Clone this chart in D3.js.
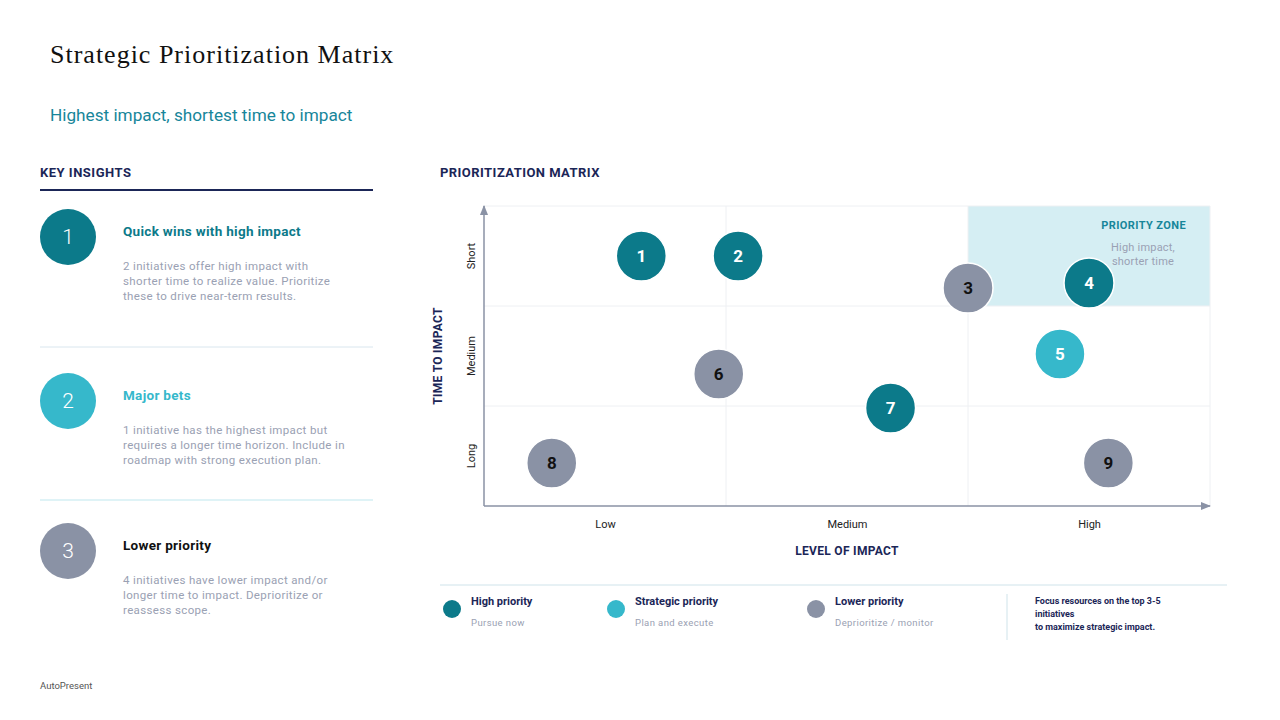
<!DOCTYPE html>
<html>
<head>
<meta charset="utf-8">
<script src="https://cdn.jsdelivr.net/npm/d3@7"></script>
<style>
  body { margin: 0; background: #fff; }
  svg { display: block; font-family: Roboto, "Noto Sans", sans-serif; }
</style>
</head>
<body>
<svg width="1280" height="720"></svg>
<script>
// initiatives on the matrix
const ids = ["1", "2", "3", "4", "5", "6", "7", "8", "9"];
const impact = [0.65, 1.05, 2.0, 2.5, 2.38, 0.97, 1.68, 0.28, 2.58];   // 0..3, Low -> High
const timeToImpact = [0.5, 0.5, 0.82, 0.77, 1.48, 1.68, 2.02, 2.57, 2.57]; // 0..3, Short -> Long
const priority = ["high", "high", "low", "high", "strategic", "low", "high", "low", "low"];

const xTicks = ["Low", "Medium", "High"];
const yTicks = ["Short", "Medium", "Long"];

const legendKeys = ["high", "strategic", "low"];
const legendNames = ["High priority", "Strategic priority", "Lower priority"];
const legendNotes = ["Pursue now", "Plan and execute", "Deprioritize / monitor"];

const insightTitles = ["Quick wins with high impact", "Major bets", "Lower priority"];
const insightBody = [
  ["2 initiatives offer high impact with", "shorter time to realize value. Prioritize", "these to drive near-term results."],
  ["1 initiative has the highest impact but", "requires a longer time horizon. Include in", "roadmap with strong execution plan."],
  ["4 initiatives have lower impact and/or", "longer time to impact. Deprioritize or", "reassess scope."]
];

const colors = { high: "#0c7a8a", strategic: "#36b8cb", low: "#8a92a5" };
const navy = "#1b2657";
const grayText = "#9aa1b3";

const svg = d3.select("svg");

// header
svg.append("text").attr("x", 50).attr("y", 63).text("Strategic Prioritization Matrix")
  .style("font-family", "'Liberation Serif', 'DejaVu Serif', serif").style("font-size", "26px")
  .style("letter-spacing", "1px").style("fill", "#111");
svg.append("text").attr("x", 50).attr("y", 121).text("Highest impact, shortest time to impact")
  .style("font-size", "17.2px").style("fill", "#17869a");

// left panel
svg.append("text").attr("x", 40).attr("y", 177).text("KEY INSIGHTS")
  .style("font-size", "13px").style("font-weight", "bold").style("letter-spacing", "0.5px").style("fill", navy);
svg.append("line").attr("x1", 40).attr("x2", 373).attr("y1", 190).attr("y2", 190)
  .style("stroke", navy).style("stroke-width", 2);

const itemY = [237, 401, 551];
const itemColor = [colors.high, colors.strategic, colors.low];
const titleColor = [colors.high, colors.strategic, "#111"];
const sepY = [347, 500];
const sepColor = ["#d9e6ee", "#bfe7ee"];

itemY.forEach(function (cy, i) {
  svg.append("circle").attr("cx", 68).attr("cy", cy).attr("r", 28).style("fill", itemColor[i]);
  svg.append("text").attr("x", 68).attr("y", cy).text(i + 1)
    .attr("text-anchor", "middle").attr("dominant-baseline", "central")
    .style("font-size", "21px").style("font-weight", 300).style("fill", "#fff");
  svg.append("text").attr("x", 123).attr("y", cy - 1).text(insightTitles[i])
    .style("font-size", "13.5px").style("font-weight", "bold").style("letter-spacing", "0.3px")
    .style("fill", titleColor[i]);
  insightBody[i].forEach(function (line, j) {
    svg.append("text").attr("x", 123).attr("y", cy + 33 + j * 15).text(line)
      .style("font-size", "11.5px").style("letter-spacing", "0.35px").style("fill", grayText);
  });
});
sepY.forEach(function (y, i) {
  svg.append("line").attr("x1", 40).attr("x2", 373).attr("y1", y).attr("y2", y)
    .style("stroke", sepColor[i]).style("stroke-width", 1);
});

// matrix
svg.append("text").attr("x", 440).attr("y", 177).text("PRIORITIZATION MATRIX")
  .style("font-size", "13px").style("font-weight", "bold").style("letter-spacing", "0.45px").style("fill", navy);

const x = d3.scaleLinear().domain([0, 3]).range([484, 1210]);
const y = d3.scaleLinear().domain([0, 3]).range([206, 506]);

// priority zone
svg.append("rect").attr("x", x(2)).attr("y", y(0)).attr("width", x(3) - x(2)).attr("height", y(1) - y(0))
  .style("fill", "#d5eef3");

// grid
const grid = svg.append("g");
[1, 2, 3].forEach(function (v) {
  grid.append("line").attr("x1", x(v)).attr("x2", x(v)).attr("y1", y(0)).attr("y2", y(3))
    .style("stroke", "#eef0f3");
});
[0, 1, 2].forEach(function (v) {
  grid.append("line").attr("x1", x(0)).attr("x2", x(3)).attr("y1", y(v)).attr("y2", y(v))
    .style("stroke", "#eef0f3");
});

svg.append("text").attr("x", 1186).attr("y", 229).text("PRIORITY ZONE").attr("text-anchor", "end")
  .style("font-size", "11px").style("font-weight", "bold").style("letter-spacing", "0.4px").style("fill", "#17869a");
["High impact,", "shorter time"].forEach(function (t, j) {
  svg.append("text").attr("x", 1143).attr("y", 251 + j * 14).text(t).attr("text-anchor", "middle")
    .style("font-size", "11px").style("letter-spacing", "0.2px").style("fill", grayText);
});

// axes with arrows
svg.append("defs").append("marker").attr("id", "arrow").attr("viewBox", "0 0 10 10")
  .attr("refX", 9).attr("refY", 5).attr("markerWidth", 7).attr("markerHeight", 7).attr("orient", "auto")
  .append("path").attr("d", "M0,1L10,5L0,9Z").style("fill", "#8a92a5");

svg.append("line").attr("x1", x(0)).attr("x2", x(3)).attr("y1", y(3)).attr("y2", y(3))
  .style("stroke", "#8a92a5").style("stroke-width", 1.5).attr("marker-end", "url(#arrow)");
svg.append("line").attr("x1", x(0)).attr("x2", x(0)).attr("y1", y(3)).attr("y2", y(0))
  .style("stroke", "#8a92a5").style("stroke-width", 1.5).attr("marker-end", "url(#arrow)");

const xAxis = d3.axisBottom(x).tickValues([0.5, 1.5, 2.5]).tickFormat(function (d, i) { return xTicks[i]; })
  .tickSize(0).tickPadding(14);
const gx = svg.append("g").attr("transform", "translate(0," + y(3) + ")").call(xAxis);
gx.select(".domain").remove();
gx.selectAll("text").style("font-size", "11px").style("fill", "#222").style("font-family", "Roboto, sans-serif");

yTicks.forEach(function (t, i) {
  svg.append("text").attr("transform", "translate(475," + y(i + 0.5) + ") rotate(-90)")
    .attr("text-anchor", "middle").text(t).style("font-size", "11px").style("fill", "#222");
});

svg.append("text").attr("x", x(1.5)).attr("y", 555).attr("text-anchor", "middle").text("LEVEL OF IMPACT")
  .style("font-size", "12px").style("font-weight", "bold").style("letter-spacing", "0.3px").style("fill", navy);
svg.append("text").attr("transform", "translate(442," + y(1.5) + ") rotate(-90)")
  .attr("text-anchor", "middle").text("TIME TO IMPACT")
  .style("font-size", "12px").style("font-weight", "bold").style("letter-spacing", "0.3px").style("fill", navy);

// bubbles
const bubbles = svg.append("g").selectAll("g").data(ids).join("g")
  .attr("transform", function (d, i) { return "translate(" + x(impact[i]) + "," + y(timeToImpact[i]) + ")"; });
bubbles.append("circle").attr("r", 25)
  .style("fill", function (d, i) { return colors[priority[i]]; })
  .style("stroke", "#fff").style("stroke-width", 1.5);
bubbles.append("text").text(function (d) { return d; })
  .attr("text-anchor", "middle").attr("dominant-baseline", "central")
  .style("font-size", "17px").style("font-weight", "bold")
  .style("fill", function (d, i) { return priority[i] === "low" ? "#111" : "#fff"; });

// legend
svg.append("line").attr("x1", 440).attr("x2", 1227).attr("y1", 585).attr("y2", 585)
  .style("stroke", "#cfe3ea");
const legendX = [452, 616, 816];
legendKeys.forEach(function (k, i) {
  svg.append("circle").attr("cx", legendX[i]).attr("cy", 609).attr("r", 9).style("fill", colors[k]);
  svg.append("text").attr("x", legendX[i] + 19).attr("y", 605).text(legendNames[i])
    .style("font-size", "11px").style("font-weight", "bold").style("fill", navy);
  svg.append("text").attr("x", legendX[i] + 19).attr("y", 626).text(legendNotes[i])
    .style("font-size", "9.5px").style("letter-spacing", "0.4px").style("fill", grayText);
});
svg.append("line").attr("x1", 1007).attr("x2", 1007).attr("y1", 594).attr("y2", 640)
  .style("stroke", "#cfe3ea");
["Focus resources on the top 3-5", "initiatives", "to maximize strategic impact."].forEach(function (t, j) {
  svg.append("text").attr("x", 1035).attr("y", 604 + j * 13).text(t)
    .style("font-size", "9px").style("font-weight", "bold").style("fill", navy);
});

svg.append("text").attr("x", 40).attr("y", 689).text("AutoPresent")
  .style("font-size", "9.5px").style("fill", "#555");
</script>
</body>
</html>
